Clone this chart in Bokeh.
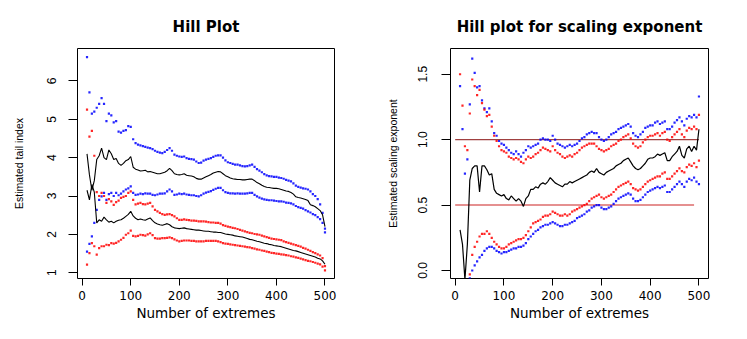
import numpy as np
from bokeh.plotting import figure
from bokeh.layouts import row
from bokeh.models import Range1d, FixedTicker
from bokeh.embed import file_html
from bokeh.resources import INLINE

nan = float("nan")

# number of extremes
k = list(range(10, 501, 5))

# ---------------- left panel: Hill plot ----------------
hill_a = [4.10, 3.55, 3.15, 3.40, 3.95, 4.05, 4.25, 4.00, 3.95, 4.20,
          4.10, 3.95, 3.98, 3.85, 3.80, 3.85, 3.92, 3.95, 4.03, 3.75,
          3.70, 3.68, 3.65, 3.66, 3.67, 3.63, 3.64, 3.62, 3.60, 3.58,
          3.58, 3.60, 3.62, 3.66, 3.72, 3.66, 3.58, 3.56, 3.55, 3.56,
          3.58, 3.54, 3.53, 3.52, 3.50, 3.46, 3.44, 3.44, 3.47, 3.50,
          3.53, 3.56, 3.60, 3.62, 3.64, 3.63, 3.58, 3.53, 3.50, 3.47,
          3.45, 3.44, 3.43, 3.43, 3.42, 3.42, 3.43, 3.44, 3.44, 3.40,
          3.35, 3.32, 3.28, 3.25, 3.23, 3.22, 3.21, 3.20, 3.20, 3.19,
          3.17, 3.15, 3.13, 3.12, 3.09, 3.05, 2.98, 2.96, 2.95, 2.93,
          2.91, 2.88, 2.77, 2.75, 2.72, 2.67, 2.62, 2.51, 2.20]
hill_b = [3.15, 2.90, 3.30, 3.10, 2.30, 2.38, 2.34, 2.45, 2.38, 2.32,
          2.34, 2.30, 2.34, 2.37, 2.38, 2.42, 2.47, 2.52, 2.60, 2.48,
          2.42, 2.38, 2.40, 2.38, 2.37, 2.40, 2.43, 2.36, 2.30, 2.27,
          2.25, 2.24, 2.26, 2.28, 2.25, 2.20, 2.17, 2.16, 2.15, 2.16,
          2.17, 2.15, 2.14, 2.13, 2.12, 2.11, 2.11, 2.10, 2.09, 2.08,
          2.08, 2.07, 2.06, 2.06, 2.05, 2.05, 2.03, 2.01, 2.00, 1.99,
          1.98, 1.96, 1.95, 1.94, 1.93, 1.91, 1.89, 1.87, 1.86, 1.84,
          1.82, 1.81, 1.79, 1.77, 1.76, 1.74, 1.73, 1.71, 1.70, 1.69,
          1.68, 1.66, 1.64, 1.62, 1.60, 1.58, 1.57, 1.55, 1.53, 1.51,
          1.49, 1.47, 1.45, 1.43, 1.41, 1.38, 1.36, 1.31, 1.22]
ci_a_hi = [6.62, 5.70, 5.15, 5.20, 5.30, 5.40, 5.55, 5.40, 4.95, 5.15,
           5.10, 4.92, 4.95, 4.68, 4.65, 4.70, 4.72, 4.82, 4.80, 4.48,
           4.38, 4.34, 4.32, 4.30, 4.28, 4.26, 4.25, 4.22, 4.18, 4.15,
           4.13, 4.12, 4.15, 4.20, 4.25, 4.18, 4.08, 4.05, 4.03, 4.02,
           4.03, 3.99, 3.97, 3.96, 3.95, 3.90, 3.86, 3.87, 3.92, 3.95,
           3.97, 3.99, 4.02, 4.05, 4.06, 4.06, 4.00, 3.93, 3.88, 3.86,
           3.84, 3.82, 3.82, 3.80, 3.78, 3.77, 3.78, 3.80, 3.82, 3.76,
           3.70, 3.66, 3.62, 3.57, 3.54, 3.52, 3.51, 3.50, 3.50, 3.48,
           3.47, 3.45, 3.42, 3.40, 3.38, 3.33, 3.27, 3.24, 3.22, 3.20,
           3.19, 3.17, 3.12, 3.05, 3.00, 2.92, 2.78, 2.56, 2.05]
ci_a_lo = [1.55, 1.75, 1.95, 2.30, 2.64, 2.90, 2.99, 3.08, 2.90, 3.05,
           3.08, 3.00, 3.08, 3.02, 3.06, 3.12, 3.17, 3.20, 3.25, 3.08,
           3.03, 3.04, 3.06, 3.05, 3.07, 3.06, 3.06, 3.03, 3.02, 3.04,
           3.06, 3.06, 3.07, 3.12, 3.17, 3.12, 3.03, 3.04, 3.06, 3.05,
           3.06, 3.04, 3.03, 3.02, 3.02, 3.00, 2.99, 3.02, 3.06, 3.09,
           3.11, 3.13, 3.16, 3.19, 3.21, 3.21, 3.15, 3.10, 3.08, 3.07,
           3.07, 3.06, 3.07, 3.06, 3.06, 3.06, 3.07, 3.08, 3.08, 3.03,
           2.99, 2.96, 2.93, 2.91, 2.90, 2.89, 2.89, 2.88, 2.87, 2.86,
           2.86, 2.85, 2.83, 2.82, 2.81, 2.78, 2.74, 2.71, 2.69, 2.67,
           2.63, 2.60, 2.57, 2.53, 2.50, 2.45, 2.40, 2.30, 2.15]
ci_b_hi = [5.25, 4.55, 4.70, 4.05, 3.10, 3.00, 3.08, 3.00, 2.82, 2.92,
           2.86, 2.77, 2.84, 2.88, 2.95, 2.98, 3.00, 3.08, 3.12, 2.90,
           2.78, 2.80, 2.82, 2.79, 2.78, 2.80, 2.82, 2.73, 2.64, 2.60,
           2.56, 2.53, 2.51, 2.52, 2.53, 2.50, 2.47, 2.42, 2.38, 2.38,
           2.39, 2.38, 2.37, 2.36, 2.36, 2.35, 2.34, 2.34, 2.34, 2.33,
           2.32, 2.31, 2.31, 2.30, 2.30, 2.28, 2.24, 2.22, 2.20, 2.19,
           2.17, 2.16, 2.14, 2.12, 2.10, 2.08, 2.06, 2.04, 2.03, 2.01,
           2.00, 1.99, 1.97, 1.95, 1.93, 1.91, 1.89, 1.88, 1.87, 1.86,
           1.85, 1.82, 1.80, 1.78, 1.76, 1.74, 1.72, 1.70, 1.68, 1.65,
           1.63, 1.60, 1.57, 1.54, 1.51, 1.48, 1.45, 1.38, 1.17]
ci_b_lo = [1.21, 1.51, 1.77, 1.69, 1.47, 1.64, 1.69, 1.69, 1.73, 1.72,
           1.77, 1.76, 1.78, 1.82, 1.86, 1.91, 1.99, 2.03, 2.10, 1.96,
           1.95, 1.96, 1.99, 1.98, 1.97, 2.00, 2.03, 1.98, 1.90, 1.89,
           1.89, 1.90, 1.90, 1.91, 1.92, 1.90, 1.87, 1.84, 1.82, 1.83,
           1.84, 1.84, 1.84, 1.83, 1.83, 1.82, 1.82, 1.82, 1.82, 1.83,
           1.83, 1.83, 1.83, 1.83, 1.82, 1.80, 1.77, 1.76, 1.75, 1.74,
           1.73, 1.72, 1.71, 1.70, 1.69, 1.68, 1.67, 1.66, 1.64, 1.63,
           1.61, 1.60, 1.58, 1.57, 1.55, 1.54, 1.52, 1.51, 1.50, 1.49,
           1.48, 1.47, 1.46, 1.45, 1.43, 1.42, 1.40, 1.39, 1.37, 1.35,
           1.33, 1.31, 1.30, 1.28, 1.26, 1.24, 1.22, 1.16, 1.06]

# ---------------- right panel: scaling exponent ----------------
scale_est = [0.31, 0.20, -0.07, 0.20, 0.69, 0.78, 0.80, 0.80, 0.60, 0.80,
             0.80, 0.77, 0.73, 0.74, 0.62, 0.59, 0.58, 0.57, 0.58, 0.55,
             0.54, 0.57, 0.55, 0.53, 0.55, 0.53, 0.49, 0.55, 0.57, 0.62,
             0.62, 0.64, 0.63, 0.66, 0.67, 0.66, 0.68, 0.71, 0.69, 0.67,
             0.66, 0.65, 0.64, 0.66, 0.66, 0.68, 0.67, 0.68, 0.69, 0.70,
             0.71, 0.72, 0.73, 0.75, 0.76, 0.75, 0.78, 0.75, 0.74, 0.73,
             0.75, 0.76, 0.77, 0.78, 0.80, 0.81, 0.82, 0.84, 0.85, 0.86,
             0.83, 0.80, 0.78, 0.77, 0.78, 0.80, 0.82, 0.85, 0.86, 0.86,
             0.87, 0.89, 0.88, 0.89, 0.90, 0.84, 0.84, 0.87, 0.89, 0.91,
             0.95, 0.88, 0.86, 0.93, 0.95, 0.91, 0.95, 0.92, 1.08]
sc_blue_hi = [1.41, 1.08, 0.74, 0.85, 1.27, 1.62, 1.51, 1.40, 1.41, 1.30,
              1.24, 1.21, 1.24, 1.14, 1.05, 1.03, 0.99, 0.97, 0.96, 0.94,
              0.92, 0.90, 0.89, 0.91, 0.89, 0.87, 0.90, 0.92, 0.95, 0.94,
              0.95, 0.96, 0.97, 1.00, 1.01, 1.00, 1.00, 0.99, 1.03, 1.00,
              0.97, 0.96, 0.95, 0.94, 0.95, 0.96, 0.95, 0.96, 0.97, 0.99,
              1.01, 1.02, 1.04, 1.05, 1.06, 1.05, 1.05, 1.02, 1.00, 0.99,
              1.00, 1.02, 1.04, 1.05, 1.06, 1.08, 1.09, 1.10, 1.11, 1.12,
              1.10, 1.05, 1.03, 1.02, 1.04, 1.06, 1.09, 1.10, 1.11, 1.11,
              1.13, 1.14, 1.12, 1.13, 1.14, 1.08, 1.08, 1.10, 1.13, 1.15,
              1.17, 1.14, 1.11, 1.16, 1.18, 1.17, 1.19, 1.17, 1.33]
sc_red_hi = [1.50, 1.26, 0.95, 0.92, 1.20, 1.46, 1.41, 1.34, 1.38, 1.28,
             1.23, 1.18, 1.19, 1.10, 1.03, 0.99, 0.95, 0.92, 0.91, 0.90,
             0.87, 0.86, 0.85, 0.86, 0.85, 0.83, 0.82, 0.85, 0.87, 0.86,
             0.87, 0.89, 0.90, 0.92, 0.94, 0.93, 0.92, 0.91, 0.95, 0.92,
             0.90, 0.89, 0.87, 0.86, 0.87, 0.88, 0.87, 0.89, 0.90, 0.92,
             0.94, 0.95, 0.96, 0.97, 0.97, 0.97, 0.95, 0.93, 0.92, 0.91,
             0.92, 0.93, 0.95, 0.96, 0.97, 0.99, 1.00, 1.02, 1.03, 1.04,
             1.01, 0.97, 0.95, 0.94, 0.95, 0.98, 1.00, 1.02, 1.03, 1.03,
             1.04, 1.05, 1.03, 1.05, 1.06, 1.00, 0.99, 1.02, 1.04, 1.06,
             1.08, 1.04, 1.02, 1.07, 1.09, 1.08, 1.10, 1.08, 1.19]
sc_red_lo = [nan, nan, nan, nan, -0.03, 0.12, 0.18, 0.22, 0.26, 0.28,
             0.28, 0.30, 0.28, 0.25, 0.22, 0.20, 0.18, 0.17, 0.17, 0.18,
             0.20, 0.21, 0.22, 0.23, 0.24, 0.24, 0.25, 0.27, 0.30, 0.33,
             0.36, 0.37, 0.38, 0.39, 0.41, 0.42, 0.42, 0.43, 0.45, 0.44,
             0.43, 0.42, 0.42, 0.43, 0.42, 0.43, 0.45, 0.46, 0.47, 0.48,
             0.49, 0.50, 0.51, 0.53, 0.55, 0.56, 0.57, 0.58, 0.56, 0.55,
             0.56, 0.57, 0.58, 0.60, 0.62, 0.64, 0.65, 0.66, 0.67, 0.68,
             0.66, 0.63, 0.62, 0.61, 0.62, 0.64, 0.66, 0.68, 0.69, 0.70,
             0.71, 0.72, 0.72, 0.74, 0.75, 0.70, 0.70, 0.72, 0.74, 0.76,
             0.78, 0.76, 0.75, 0.79, 0.81, 0.80, 0.82, 0.79, 0.84]
sc_blue_lo = [nan, nan, nan, nan, -0.06, 0.00, 0.04, 0.07, 0.10, 0.12,
              0.15, 0.17, 0.18, 0.18, 0.17, 0.15, 0.14, 0.13, 0.14, 0.14,
              0.15, 0.16, 0.17, 0.17, 0.18, 0.18, 0.19, 0.21, 0.24, 0.26,
              0.28, 0.30, 0.31, 0.33, 0.34, 0.35, 0.35, 0.36, 0.37, 0.36,
              0.35, 0.34, 0.34, 0.35, 0.35, 0.36, 0.37, 0.38, 0.40, 0.41,
              0.42, 0.43, 0.45, 0.46, 0.48, 0.49, 0.50, 0.50, 0.48, 0.47,
              0.47, 0.48, 0.49, 0.51, 0.53, 0.55, 0.56, 0.57, 0.58, 0.59,
              0.58, 0.55, 0.53, 0.53, 0.54, 0.56, 0.58, 0.60, 0.61, 0.62,
              0.63, 0.64, 0.63, 0.64, 0.65, 0.60, 0.60, 0.62, 0.64, 0.66,
              0.68, 0.66, 0.64, 0.68, 0.70, 0.69, 0.71, 0.68, 0.66]

# reference levels on the right panel
ref_levels = [1.0, 0.5]
ref_start = [0, 0]
ref_end = [500, 490]
ref_colors = ["#a04040", "#e59090"]

x_ticks = [0, 100, 200, 300, 400, 500]
left_y_ticks = [1, 2, 3, 4, 5, 6]
right_y_ticks = [0.0, 0.5, 1.0, 1.5]
right_y_labels = ["0.0", "0.5", "1.0", "1.5"]

for s in [hill_a, hill_b, ci_a_hi, ci_a_lo, ci_b_hi, ci_b_lo,
          scale_est, sc_blue_hi, sc_red_hi, sc_red_lo, sc_blue_lo]:
    assert len(s) == len(k), len(s)

TITLE_FONT = "DejaVu Sans"
TICK_FONT = "DejaVu Sans"
YFONT = "Liberation Sans"


def make_fig(title, width, yr, border_left, border_right, ylabel, yticks,
             ylab_standoff, ytick_standoff):
    p = figure(width=width, height=331, output_backend="svg", toolbar_location=None,
               x_range=Range1d(-9.6, 519.6), y_range=yr,
               min_border_left=border_left, min_border_right=border_right,
               min_border_top=48, min_border_bottom=53,
               background_fill_color="white", border_fill_color="white")
    p.title.text = title
    p.title.align = "center"
    p.title.text_font = TITLE_FONT
    p.title.text_font_size = "15px"
    p.title.text_font_style = "bold"
    p.title.text_color = "black"
    p.title.standoff = 25
    p.outline_line_color = "black"
    p.outline_line_width = 1
    p.outline_line_alpha = 1
    p.xgrid.grid_line_color = None
    p.ygrid.grid_line_color = None

    xa = p.xaxis[0]
    xa.ticker = FixedTicker(ticks=x_ticks)
    xa.axis_line_color = None
    xa.major_tick_in = 0
    xa.major_tick_out = 7
    xa.minor_tick_line_color = None
    xa.major_label_text_font = TICK_FONT
    xa.major_label_text_font_size = "12px"
    xa.major_label_text_color = "black"
    xa.major_label_standoff = 5
    xa.axis_label = "Number of extremes"
    xa.axis_label_text_font = TICK_FONT
    xa.axis_label_text_font_size = "13.5px"
    xa.axis_label_text_font_style = "normal"
    xa.axis_label_text_color = "black"
    xa.axis_label_standoff = 2

    ya = p.yaxis[0]
    ya.ticker = FixedTicker(ticks=yticks)
    ya.axis_line_color = None
    ya.major_tick_in = 0
    ya.major_tick_out = 9
    ya.minor_tick_line_color = None
    ya.major_label_orientation = "vertical"
    ya.major_label_text_font = YFONT
    ya.major_label_text_font_size = "12px"
    ya.major_label_text_color = "black"
    ya.major_label_standoff = ytick_standoff
    ya.axis_label = ylabel
    ya.axis_label_text_font = YFONT
    ya.axis_label_text_font_size = "10.5px"
    ya.axis_label_text_font_style = "normal"
    ya.axis_label_text_color = "black"
    ya.axis_label_standoff = ylab_standoff
    return p


def dots(p, ys, color):
    p.scatter(k, np.array(ys, dtype=float), marker="square", size=2.2,
              fill_color=color, line_color=None, fill_alpha=0.85)


# left figure
p1 = make_fig("Hill Plot", 381, Range1d(0.85, 6.845), 77, 47,
              "Estimated tail index", left_y_ticks, 20, 12)
dots(p1, ci_a_hi, "blue")
dots(p1, ci_a_lo, "blue")
dots(p1, ci_b_hi, "red")
dots(p1, ci_b_lo, "red")
p1.line(k, hill_a, line_color="black", line_width=1.1)
p1.line(k, hill_b, line_color="black", line_width=1.1)

# right figure
p2 = make_fig("Hill plot for scaling exponent", 358, Range1d(-0.061, 1.697), 69, 31,
              "Estimated scaling exponent", right_y_ticks, 17, 14)
p2.yaxis[0].major_label_overrides = {t: l for t, l in zip(right_y_ticks, right_y_labels)}
p2.segment(x0=ref_start, y0=ref_levels, x1=ref_end, y1=ref_levels,
           line_color=ref_colors, line_width=[1.3, 2.0])
dots(p2, sc_blue_hi, "blue")
dots(p2, sc_blue_lo, "blue")
dots(p2, sc_red_hi, "red")
dots(p2, sc_red_lo, "red")
p2.line(k, scale_est, line_color="black", line_width=1.2)

layout = row(p1, p2)
open("out.html", "w").write(file_html(layout, INLINE))
